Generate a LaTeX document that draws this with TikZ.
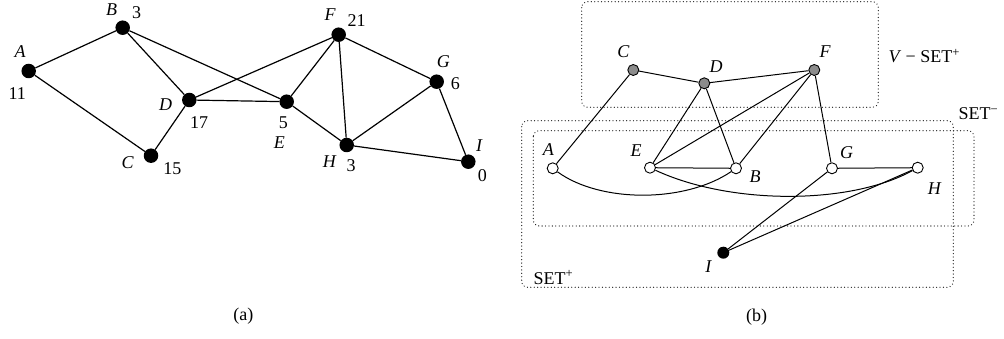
\documentclass[tikz,border=0pt]{standalone}
\usepackage{fontspec}
\setmainfont{Liberation Serif}
\begin{document}
\begin{tikzpicture}[x=1pt,y=-1pt,
  every node/.style={inner sep=0pt},
  lbl/.style={font=\fontsize{18}{21}\selectfont\itshape},
  num/.style={font=\fontsize{18}{21}\selectfont},
  bdot/.style={circle,fill=black,minimum size=14.5pt},
  odot/.style={circle,draw=black,line width=0.9pt,fill=white,minimum size=11pt},
  gdot/.style={circle,draw=black,line width=0.9pt,fill=black!45,minimum size=11pt},
  bdotsmall/.style={circle,fill=black,minimum size=12pt},
  edge/.style={line width=1.2pt},
  edgeb/.style={line width=1.0pt},
  setbox/.style={line width=1.3pt,dash pattern=on 0.01pt off 3.4pt,line cap=round,rounded corners=6pt,draw=black!85}]
\useasboundingbox (0,0) rectangle (1004,339);

% ---------- (a) weighted graph ----------
\node[bdot] (a) at (28.7,71) {};
\node[bdot] (b) at (122.7,27.7) {};
\node[bdot] (c) at (151,155.7) {};
\node[bdot] (d) at (189.3,100) {};
\node[bdot] (e) at (286.7,101.7) {};
\node[bdot] (f) at (338.7,34.7) {};
\node[bdot] (g) at (436.7,81.7) {};
\node[bdot] (h) at (346.7,145) {};
\node[bdot] (i) at (468.3,161.7) {};

\draw[edge] (a) -- (b);
\draw[edge] (a) -- (c);
\draw[edge] (b) -- (d);
\draw[edge] (b) -- (e);
\draw[edge] (c) -- (d);
\draw[edge] (d) -- (e);
\draw[edge] (d) -- (f);
\draw[edge] (e) -- (f);
\draw[edge] (e) -- (h);
\draw[edge] (f) -- (h);
\draw[edge] (f) -- (g);
\draw[edge] (g) -- (h);
\draw[edge] (g) -- (i);
\draw[edge] (h) -- (i);

\node[lbl] (la) at (20,52) {A};
\node[num] (wa) at (17.3,94) {11};
\node[lbl] (lb) at (111.7,10) {B};
\node[num] (wb) at (136.7,12.7) {3};
\node[lbl] (lc) at (127.7,162.7) {C};
\node[num] (wc) at (172.3,168.3) {15};
\node[lbl] (ld) at (165.7,104.3) {D};
\node[num] (wd) at (199,122.3) {17};
\node[num] (we) at (283.3,122.7) {5};
\node[lbl] (le) at (279.3,142.7) {E};
\node[lbl] (lf) at (330,15) {F};
\node[num] (wf) at (356.7,20.7) {21};
\node[lbl] (lg) at (443.3,61.7) {G};
\node[num] (wg) at (455.3,83.3) {6};
\node[lbl] (lh) at (329.3,161.3) {H};
\node[num] (wh) at (351,165.7) {3};
\node[lbl] (li) at (479,145.7) {I};
\node[num] (wi) at (482.3,176) {0};

\node[num] (capa) at (243.3,316) {(a)};

% ---------- (b) partition into vertex sets ----------
\draw[setbox] (581.7,1.7) rectangle (878.3,107.3);
\draw[setbox] (521.7,120.7) rectangle (953.3,287.3);
\draw[setbox] (533.3,130.7) rectangle (974,226);

\node[gdot] (C) at (633.3,70) {};
\node[gdot] (D) at (704.3,83.3) {};
\node[gdot] (F) at (814.3,70) {};
\node[odot] (A) at (552.7,168.3) {};
\node[odot] (E) at (650,167.7) {};
\node[odot] (B) at (736,168.3) {};
\node[odot] (G) at (832,168.3) {};
\node[odot] (H) at (917.7,167.7) {};
\node[bdotsmall] (I) at (723.3,252.7) {};

\draw[edgeb] (C) -- (A);
\draw[edgeb] (C) -- (D);
\draw[edgeb] (D) -- (F);
\draw[edgeb] (D) -- (E);
\draw[edgeb] (D) -- (B);
\draw[edgeb] (F) -- (E);
\draw[edgeb] (F) -- (B);
\draw[edgeb] (F) -- (G);
\draw[edgeb] (E) -- (B);
\draw[edgeb] (G) -- (H);
\draw[edgeb] (G) -- (I);
\draw[edgeb] (H) -- (I);
\draw[edgeb] (A) .. controls (600,203) and (685,203) .. (B);
\draw[edgeb] (E) .. controls (730,205) and (850,205) .. (H);

\node[lbl] (lC) at (623.3,51.7) {C};
\node[lbl] (lD) at (716,66.7) {D};
\node[lbl] (lF) at (825,51.7) {F};
\node[lbl] (lA) at (548.3,150) {A};
\node[lbl] (lE) at (636,150.7) {E};
\node[lbl] (lB) at (755,176.7) {B};
\node[lbl] (lG) at (846.7,152.7) {G};
\node[lbl] (lH) at (934.3,188.3) {H};
\node[lbl] (lI) at (708.3,266.7) {I};

\node[num,anchor=west] (setv) at (888.3,56) {\textit{V} − SET\textsuperscript{+}};
\node[num,anchor=west] (setm) at (958.3,113.5) {SET\textsuperscript{−}};
\node[num,anchor=west] (setp) at (533.3,277.5) {SET\textsuperscript{+}};

\node[num] (capb) at (756.7,316.7) {(b)};
\end{tikzpicture}
\end{document}
